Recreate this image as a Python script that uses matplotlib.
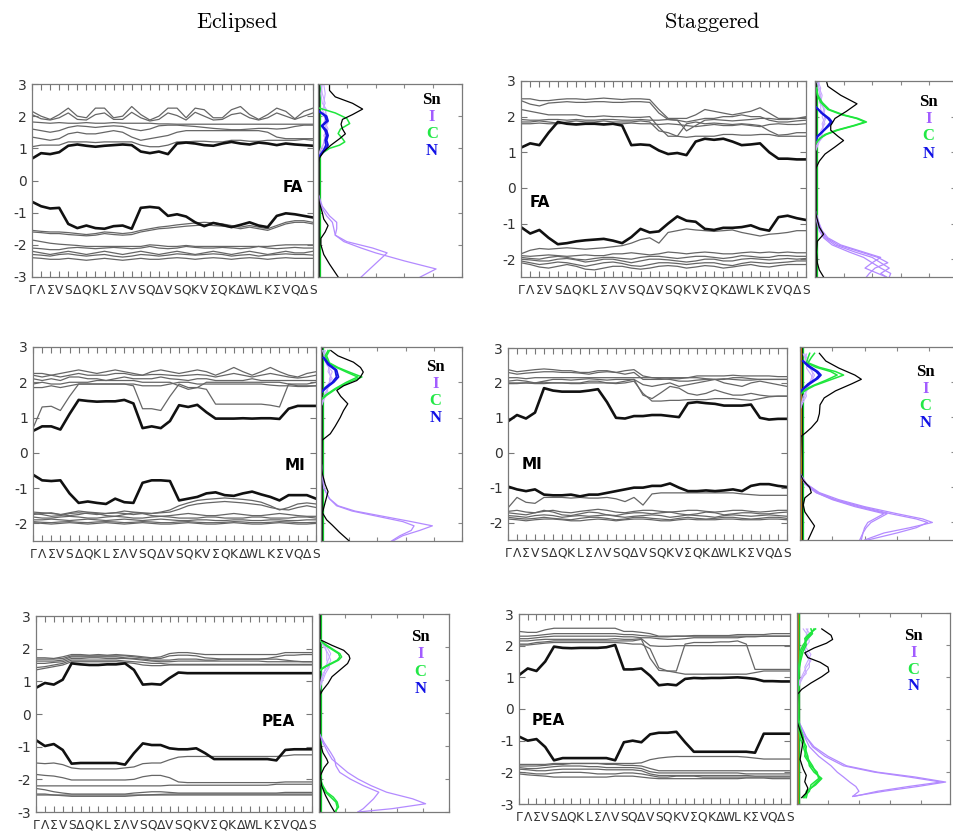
import numpy as np
import matplotlib
matplotlib.use('Agg')
from matplotlib import pyplot as plt

plt.rcParams['axes.unicode_minus'] = False
plt.rcParams['mathtext.fontset'] = 'cm'

kpath = ['Γ', 'Λ', 'Σ', 'V', 'S', 'Δ', 'Q', 'K', 'L', 'Σ', 'Λ', 'V', 'S', 'Q', 'Δ', 'V',
         'S', 'Q', 'K', 'V', 'Σ', 'Q', 'K', 'Δ', 'W', 'L', 'K', 'Σ', 'V', 'Q', 'Δ', 'S']
species = ['Sn', 'I', 'C', 'N']

# ---------------- Eclipsed FA ----------------
ecl_fa_cb = [0.68, 0.85, 0.82, 0.88, 1.08, 1.12, 1.08, 1.05, 1.08, 1.1, 1.12, 1.1, 0.9, 0.85, 0.9, 0.82,
             1.15, 1.18, 1.15, 1.1, 1.08, 1.15, 1.2, 1.15, 1.12, 1.18, 1.15, 1.1, 1.15, 1.12, 1.1, 1.08]
ecl_fa_vb = [-0.66, -0.8, -0.87, -0.85, -1.35, -1.48, -1.4, -1.48, -1.5, -1.42, -1.4, -1.5, -0.85, -0.82, -0.85, -1.1,
             -1.05, -1.12, -1.3, -1.42, -1.32, -1.38, -1.45, -1.38, -1.3, -1.4, -1.45, -1.1, -1.02, -1.05, -1.1, -1.15]
ecl_fa_gray = [
    [2.15, 2.0, 1.9, 2.05, 2.25, 2.0, 1.95, 2.25, 2.25, 1.95, 2.0, 2.3, 2.05, 1.88, 2.0, 2.25,
     2.25, 1.95, 2.25, 2.2, 1.95, 1.95, 2.2, 2.3, 2.05, 1.9, 2.05, 2.25, 2.15, 1.92, 2.15, 2.25],
    [2.05, 1.92, 1.88, 1.95, 2.1, 1.9, 1.88, 2.05, 2.1, 1.9, 1.9, 2.12, 1.95, 1.85, 1.9, 2.1,
     2.02, 1.88, 2.12, 2.0, 1.88, 1.9, 2.05, 2.1, 1.95, 1.88, 1.95, 2.1, 2.0, 1.9, 2.0, 2.1],
    [1.82, 1.8, 1.78, 1.8, 1.78, 1.78, 1.8, 1.78, 1.78, 1.8, 1.78, 1.78, 1.78, 1.78, 1.76, 1.76,
     1.75, 1.75, 1.75, 1.75, 1.75, 1.75, 1.75, 1.75, 1.75, 1.75, 1.75, 1.75, 1.75, 1.75, 1.75, 1.75],
    [1.6, 1.55, 1.5, 1.55, 1.65, 1.7, 1.68, 1.65, 1.68, 1.7, 1.68, 1.6, 1.55, 1.6, 1.7, 1.72,
     1.72, 1.7, 1.68, 1.65, 1.62, 1.6, 1.58, 1.58, 1.6, 1.62, 1.62, 1.6, 1.62, 1.68, 1.72, 1.72],
    [1.35, 1.3, 1.25, 1.3, 1.45, 1.5, 1.45, 1.45, 1.5, 1.55, 1.5, 1.35, 1.25, 1.3, 1.35, 1.4,
     1.5, 1.55, 1.55, 1.55, 1.55, 1.55, 1.55, 1.55, 1.55, 1.55, 1.5, 1.35, 1.3, 1.3, 1.3, 1.3],
    [1.05, 1.1, 1.1, 1.1, 1.2, 1.2, 1.2, 1.18, 1.2, 1.2, 1.2, 1.2, 1.1, 1.05, 1.05, 1.1,
     1.2, 1.2, 1.22, 1.22, 1.2, 1.2, 1.25, 1.25, 1.22, 1.22, 1.25, 1.25, 1.25, 1.25, 1.28, 1.25],
    [-1.55, -1.58, -1.6, -1.6, -1.62, -1.65, -1.68, -1.65, -1.6, -1.62, -1.65, -1.62, -1.55, -1.5, -1.45, -1.42,
     -1.38, -1.35, -1.32, -1.3, -1.32, -1.35, -1.4, -1.45, -1.4, -1.45, -1.5, -1.4, -1.3, -1.25, -1.25, -1.3],
    [-1.6, -1.62, -1.65, -1.65, -1.68, -1.7, -1.72, -1.7, -1.65, -1.68, -1.7, -1.68, -1.6, -1.55, -1.5, -1.48,
     -1.45, -1.42, -1.4, -1.38, -1.4, -1.42, -1.45, -1.5, -1.45, -1.5, -1.55, -1.45, -1.35, -1.3, -1.3, -1.35],
    [-1.85, -1.9, -1.95, -1.98, -2.0, -2.02, -2.05, -2.05, -2.05, -2.05, -2.05, -2.05, -2.05, -2.0, -2.02, -2.05,
     -2.05, -2.02, -2.05, -2.05, -2.05, -2.05, -2.05, -2.05, -2.05, -2.05, -2.05, -2.02, -2.0, -2.0, -2.0, -2.0],
    [-2.1, -2.12, -2.15, -2.15, -2.1, -2.08, -2.1, -2.12, -2.1, -2.08, -2.1, -2.12, -2.1, -2.05, -2.1, -2.12,
     -2.1, -2.05, -2.08, -2.1, -2.1, -2.08, -2.1, -2.12, -2.1, -2.05, -2.1, -2.12, -2.1, -2.08, -2.1, -2.1],
    [-2.2, -2.25, -2.3, -2.25, -2.2, -2.25, -2.3, -2.25, -2.2, -2.25, -2.3, -2.25, -2.2, -2.25, -2.3, -2.25,
     -2.2, -2.25, -2.3, -2.25, -2.2, -2.25, -2.3, -2.25, -2.2, -2.25, -2.3, -2.25, -2.2, -2.25, -2.25, -2.2],
    [-2.3, -2.32, -2.35, -2.3, -2.28, -2.32, -2.35, -2.32, -2.3, -2.35, -2.38, -2.35, -2.3, -2.32, -2.35, -2.32,
     -2.28, -2.3, -2.32, -2.3, -2.28, -2.3, -2.35, -2.32, -2.3, -2.35, -2.32, -2.3, -2.28, -2.3, -2.3, -2.32],
    [-2.4, -2.42, -2.45, -2.45, -2.42, -2.45, -2.48, -2.45, -2.42, -2.45, -2.48, -2.45, -2.42, -2.45, -2.45, -2.42,
     -2.4, -2.42, -2.45, -2.42, -2.4, -2.42, -2.45, -2.42, -2.4, -2.42, -2.45, -2.42, -2.4, -2.42, -2.42, -2.42],
]
ecl_fa_sn_e = [3.0, 2.8, 2.6, 2.4, 2.22, 2.05, 1.9, 1.75, 1.6, 1.45, 1.3, 1.1, 0.9, 0.7, 0.5,
               -0.4, -0.7, -1.0, -1.2, -1.4, -1.6, -1.8, -2.0, -2.3, -2.6, -2.8, -3.0]
ecl_fa_sn_x = [0.4, 0.4, 0.6, 1.2, 1.55, 1.2, 0.85, 0.8, 0.85, 0.95, 0.75, 0.45, 0.2, 0.05, 0.0,
               0.0, 0.05, 0.15, 0.2, 0.35, 0.25, 0.1, 0.1, 0.2, 0.4, 0.55, 0.7]
ecl_fa_i_e = [-0.4, -0.8, -1.1, -1.3, -1.5, -1.7, -1.9, -2.1, -2.25, -2.5, -2.75, -3.0]
ecl_fa_i_x = [[0.0, 0.15, 0.4, 0.65, 0.65, 0.6, 1.0, 1.9, 2.4, 2.1, 1.8, 1.5],
              [0.0, 0.1, 0.3, 0.5, 0.55, 0.6, 0.9, 1.5, 2.0, 3.0, 4.1, 3.55]]
ecl_fa_ic_e = [3.0, 2.7, 2.4, 2.2, 2.0, 1.8, 1.6, 1.4, 1.2, 1.0, 0.8, 0.6]
ecl_fa_ic_x = [[0.2, 0.25, 0.2, 0.25, 0.3, 0.2, 0.3, 0.25, 0.2, 0.15, 0.05, 0.0],
               [0.15, 0.1, 0.15, 0.3, 0.2, 0.35, 0.2, 0.3, 0.25, 0.1, 0.02, 0.0],
               [0.1, 0.15, 0.25, 0.15, 0.25, 0.25, 0.35, 0.2, 0.3, 0.2, 0.05, 0.0]]
ecl_fa_c_e = [2.25, 2.1, 1.93, 1.77, 1.6, 1.46, 1.3, 1.2, 1.1, 1.0, 0.85, 0.72]
ecl_fa_c_x = [[0.05, 0.6, 1.0, 1.1, 0.78, 0.7, 0.85, 0.93, 0.75, 0.4, 0.15, 0.02]]
ecl_fa_n_e = [2.15, 2.0, 1.85, 1.7, 1.55, 1.4, 1.25, 1.1, 0.95, 0.8, 0.7]
ecl_fa_n_x = [[0.05, 0.3, 0.35, 0.15, 0.3, 0.35, 0.3, 0.35, 0.25, 0.1, 0.0],
              [0.03, 0.25, 0.3, 0.12, 0.25, 0.3, 0.25, 0.28, 0.2, 0.08, 0.0]]

# ---------------- Staggered FA ----------------
stg_fa_cb = [1.13, 1.25, 1.2, 1.55, 1.85, 1.8, 1.78, 1.8, 1.8, 1.78, 1.8, 1.75, 1.2, 1.22, 1.2, 1.05,
             0.95, 0.98, 0.92, 1.3, 1.38, 1.35, 1.38, 1.3, 1.2, 1.22, 1.25, 1.0, 0.82, 0.82, 0.8, 0.8]
stg_fa_vb = [-1.1, -1.28, -1.18, -1.4, -1.58, -1.55, -1.5, -1.47, -1.45, -1.43, -1.48, -1.55, -1.38, -1.15, -1.25, -1.22,
             -1.0, -0.8, -0.92, -0.95, -1.15, -1.18, -1.12, -1.12, -1.1, -1.05, -1.15, -1.2, -0.82, -0.78, -0.85, -0.9]
stg_fa_gray = [
    [2.5, 2.5, 2.45, 2.45, 2.48, 2.5, 2.5, 2.48, 2.5, 2.52, 2.5, 2.48, 2.5, 2.5, 2.48, 2.2,
     1.95, 1.95, 1.95, 2.05, 2.2, 2.15, 2.1, 2.05, 2.1, 2.15, 2.25, 2.1, 1.95, 1.95, 1.95, 1.95],
    [2.45, 2.35, 2.3, 2.38, 2.4, 2.42, 2.4, 2.4, 2.42, 2.42, 2.4, 2.4, 2.42, 2.42, 2.4, 2.1,
     1.92, 1.9, 1.85, 1.9, 1.95, 1.95, 2.0, 2.0, 2.05, 2.0, 2.0, 1.9, 1.85, 1.85, 1.88, 1.9],
    [2.2, 2.15, 2.1, 2.05, 2.05, 2.05, 2.05, 2.0, 2.0, 2.02, 2.0, 2.0, 1.98, 1.98, 2.0, 1.7,
     1.45, 1.45, 1.42, 1.45, 1.45, 1.45, 1.5, 1.5, 1.48, 1.48, 1.5, 1.5, 1.45, 1.45, 1.45, 1.45],
    [1.92, 1.9, 1.9, 1.92, 1.92, 1.9, 1.92, 1.9, 1.9, 1.92, 1.92, 1.9, 1.9, 1.92, 1.9, 1.9,
     1.92, 1.9, 1.6, 1.75, 1.9, 1.92, 1.9, 1.88, 1.9, 1.92, 1.95, 1.95, 1.92, 1.92, 1.95, 2.0],
    [1.85, 1.85, 1.88, 1.85, 1.82, 1.85, 1.88, 1.85, 1.85, 1.88, 1.85, 1.85, 1.85, 1.88, 1.85, 1.6,
     1.55, 1.45, 1.8, 1.85, 1.8, 1.82, 1.8, 1.78, 1.8, 1.78, 1.75, 1.6, 1.48, 1.5, 1.55, 1.55],
    [1.8, 1.8, 1.82, 1.8, 1.8, 1.82, 1.8, 1.8, 1.82, 1.8, 1.8, 1.8, 1.82, 1.8, 1.8, 1.78,
     1.8, 1.78, 1.75, 1.72, 1.75, 1.78, 1.75, 1.75, 1.78, 1.75, 1.72, 1.78, 1.8, 1.78, 1.78, 1.8],
    [-1.85, -1.75, -1.7, -1.72, -1.7, -1.68, -1.7, -1.72, -1.7, -1.68, -1.65, -1.62, -1.55, -1.45, -1.4, -1.55,
     -1.25, -1.2, -1.15, -1.18, -1.2, -1.22, -1.2, -1.18, -1.25, -1.3, -1.35, -1.3, -1.28, -1.25, -1.2, -1.2],
    [-1.9, -1.92, -1.9, -1.88, -1.9, -1.92, -1.9, -1.88, -1.9, -1.9, -1.85, -1.85, -1.82, -1.85, -1.88, -1.85,
     -1.8, -1.82, -1.85, -1.82, -1.8, -1.82, -1.85, -1.85, -1.82, -1.8, -1.82, -1.8, -1.82, -1.8, -1.82, -1.82],
    [-1.95, -1.98, -2.0, -1.95, -1.92, -1.95, -2.0, -2.02, -1.98, -1.95, -1.95, -1.98, -2.0, -1.95, -1.92, -1.92,
     -1.95, -1.98, -1.95, -1.92, -1.92, -1.95, -1.98, -1.95, -1.9, -1.92, -1.95, -1.95, -1.9, -1.9, -1.92, -1.92],
    [-2.0, -2.02, -2.05, -2.05, -2.0, -1.98, -2.02, -2.08, -2.05, -2.0, -2.0, -2.05, -2.1, -2.05, -2.0, -2.0,
     -2.02, -2.05, -2.08, -2.05, -2.0, -2.0, -2.05, -2.05, -2.0, -1.98, -2.0, -2.02, -2.0, -1.98, -2.0, -1.98],
    [-2.05, -2.1, -2.15, -2.12, -2.08, -2.1, -2.15, -2.2, -2.15, -2.1, -2.08, -2.12, -2.18, -2.2, -2.15, -2.1,
     -2.1, -2.12, -2.15, -2.12, -2.1, -2.1, -2.15, -2.18, -2.12, -2.08, -2.1, -2.12, -2.1, -2.08, -2.05, -2.05],
    [-2.1, -2.15, -2.22, -2.25, -2.2, -2.15, -2.2, -2.28, -2.3, -2.25, -2.2, -2.2, -2.25, -2.28, -2.25, -2.2,
     -2.18, -2.2, -2.25, -2.22, -2.18, -2.2, -2.25, -2.22, -2.18, -2.15, -2.2, -2.22, -2.18, -2.15, -2.15, -2.15],
]
stg_fa_sn_e = [3.0, 2.85, 2.6, 2.36, 2.15, 1.95, 1.75, 1.62, 1.45, 1.33, 1.15, 0.95, 0.75, 0.5,
               -0.5, -0.8, -1.1, -1.3, -1.5, -1.8, -2.1, -2.3, -2.5]
stg_fa_sn_x = [0.4, 0.45, 0.9, 1.47, 1.1, 0.7, 0.55, 0.55, 0.8, 1.0, 0.7, 0.35, 0.15, 0.0,
               0.0, 0.05, 0.15, 0.3, 0.08, 0.05, 0.08, 0.15, 0.3]
stg_fa_i_e = [-0.6, -0.9, -1.2, -1.4, -1.6, -1.8, -1.95, -2.1, -2.25, -2.4, -2.5]
stg_fa_i_x = [[0.0, 0.1, 0.2, 0.4, 0.8, 1.6, 2.2, 2.55, 2.1, 1.9, 1.8],
              [0.0, 0.1, 0.2, 0.35, 0.7, 1.4, 2.0, 2.3, 2.6, 2.3, 2.5],
              [0.0, 0.05, 0.15, 0.3, 0.6, 1.2, 1.7, 2.0, 2.3, 2.65, 2.6],
              [0.0, 0.1, 0.25, 0.45, 0.9, 1.7, 2.3, 2.0, 1.75, 2.2, 2.5]]
stg_fa_ic_e = [3.0, 2.8, 2.6, 2.4, 2.2, 2.0, 1.8, 1.6, 1.4, 1.2, 1.0]
stg_fa_ic_x = [[0.1, 0.2, 0.15, 0.25, 0.3, 0.35, 0.25, 0.3, 0.2, 0.1, 0.0],
               [0.15, 0.1, 0.2, 0.15, 0.35, 0.25, 0.35, 0.2, 0.25, 0.05, 0.0],
               [0.05, 0.15, 0.25, 0.2, 0.2, 0.4, 0.3, 0.25, 0.15, 0.08, 0.0]]
stg_fa_c_e = [2.8, 2.6, 2.4, 2.2, 2.05, 1.95, 1.85, 1.75, 1.62, 1.5, 1.4, 1.3, 1.2]
stg_fa_c_x = [[0.05, 0.1, 0.25, 0.5, 1.0, 1.5, 1.8, 1.4, 0.8, 0.4, 0.2, 0.08, 0.0],
              [0.05, 0.08, 0.2, 0.45, 0.95, 1.45, 1.75, 1.35, 0.75, 0.35, 0.18, 0.06, 0.0]]
stg_fa_n_e = [2.3, 2.1, 1.95, 1.85, 1.75, 1.6, 1.45, 1.3]
stg_fa_n_x = [[0.0, 0.25, 0.5, 0.6, 0.5, 0.3, 0.1, 0.0],
              [0.0, 0.22, 0.45, 0.55, 0.45, 0.28, 0.08, 0.0]]

# ---------------- Eclipsed MI ----------------
ecl_mi_cb = [0.62, 0.75, 0.75, 0.66, 1.1, 1.5, 1.47, 1.45, 1.46, 1.46, 1.5, 1.4, 0.7, 0.75, 0.7, 0.9,
             1.35, 1.3, 1.36, 1.15, 0.97, 0.97, 0.97, 0.98, 0.97, 0.98, 0.98, 0.96, 1.25, 1.33, 1.33, 1.33]
ecl_mi_vb = [-0.62, -0.78, -0.8, -0.78, -1.15, -1.42, -1.38, -1.42, -1.45, -1.3, -1.4, -1.42, -0.85, -0.78, -0.78, -0.8,
             -1.35, -1.3, -1.25, -1.15, -1.12, -1.2, -1.22, -1.15, -1.1, -1.18, -1.25, -1.35, -1.2, -1.2, -1.2, -1.3]
ecl_mi_gray = [
    [0.7, 1.3, 1.32, 1.2, 1.6, 1.95, 1.95, 1.95, 1.95, 1.95, 1.95, 1.9, 1.25, 1.25, 1.2, 1.6,
     1.95, 1.85, 1.85, 1.8, 1.38, 1.38, 1.38, 1.38, 1.38, 1.38, 1.35, 1.3, 1.95, 1.9, 1.9, 1.9],
    [2.25, 2.25, 2.2, 2.25, 2.3, 2.35, 2.3, 2.25, 2.3, 2.35, 2.3, 2.25, 2.2, 2.3, 2.35, 2.3,
     2.25, 2.3, 2.35, 2.3, 2.2, 2.3, 2.42, 2.3, 2.2, 2.3, 2.42, 2.3, 2.2, 2.15, 2.25, 2.3],
    [2.2, 2.15, 2.2, 2.15, 2.2, 2.25, 2.2, 2.2, 2.2, 2.25, 2.25, 2.2, 2.2, 2.22, 2.22, 2.2,
     2.18, 2.2, 2.22, 2.2, 2.15, 2.2, 2.25, 2.2, 2.15, 2.2, 2.25, 2.2, 2.15, 2.12, 2.15, 2.2],
    [2.1, 2.05, 2.1, 2.05, 2.15, 2.15, 2.1, 2.1, 2.05, 2.1, 2.15, 2.1, 2.1, 2.1, 2.15, 2.1,
     2.08, 2.05, 2.1, 2.1, 2.05, 2.05, 2.05, 2.05, 2.1, 2.05, 2.05, 2.05, 2.05, 2.05, 2.05, 2.05],
    [1.95, 2.0, 1.95, 1.95, 2.0, 2.0, 2.0, 2.05, 2.05, 2.05, 2.05, 2.05, 2.0, 2.0, 2.0, 2.0,
     1.9, 1.8, 1.85, 2.0, 2.0, 2.0, 2.0, 2.0, 2.0, 2.0, 2.0, 2.0, 1.95, 1.95, 1.95, 2.0],
    [1.85, 1.85, 1.9, 1.85, 1.9, 1.95, 1.95, 1.95, 1.95, 1.95, 1.95, 1.95, 1.9, 1.9, 1.9, 1.95,
     2.0, 2.0, 1.95, 1.95, 1.95, 1.95, 1.95, 1.95, 1.95, 1.95, 1.92, 1.9, 1.9, 1.88, 1.88, 1.9],
    [-1.68, -1.7, -1.72, -1.75, -1.7, -1.65, -1.68, -1.7, -1.72, -1.7, -1.65, -1.68, -1.7, -1.72, -1.68, -1.62,
     -1.5, -1.42, -1.35, -1.32, -1.3, -1.28, -1.3, -1.32, -1.35, -1.4, -1.5, -1.62, -1.55, -1.45, -1.42, -1.45],
    [-1.72, -1.75, -1.8, -1.78, -1.72, -1.7, -1.72, -1.75, -1.72, -1.7, -1.72, -1.75, -1.72, -1.72, -1.7, -1.68,
     -1.6, -1.5, -1.45, -1.42, -1.4, -1.38, -1.4, -1.42, -1.45, -1.48, -1.55, -1.6, -1.62, -1.55, -1.5, -1.55],
    [-1.75, -1.72, -1.7, -1.75, -1.78, -1.75, -1.7, -1.72, -1.78, -1.8, -1.75, -1.7, -1.72, -1.78, -1.8, -1.78,
     -1.75, -1.72, -1.75, -1.78, -1.78, -1.75, -1.72, -1.75, -1.78, -1.78, -1.75, -1.72, -1.75, -1.78, -1.8, -1.8],
    [-1.82, -1.85, -1.85, -1.82, -1.8, -1.82, -1.85, -1.85, -1.82, -1.8, -1.82, -1.85, -1.85, -1.82, -1.8, -1.82,
     -1.85, -1.85, -1.85, -1.82, -1.82, -1.85, -1.85, -1.85, -1.82, -1.82, -1.85, -1.85, -1.85, -1.82, -1.82, -1.85],
    [-1.9, -1.9, -1.88, -1.9, -1.92, -1.9, -1.88, -1.9, -1.92, -1.9, -1.88, -1.9, -1.92, -1.9, -1.88, -1.9,
     -1.92, -1.92, -1.9, -1.9, -1.92, -1.92, -1.9, -1.9, -1.92, -1.92, -1.9, -1.9, -1.92, -1.92, -1.9, -1.9],
    [-1.95, -1.97, -1.98, -1.96, -1.95, -1.97, -1.98, -1.96, -1.95, -1.96, -1.98, -1.97, -1.95, -1.96, -1.98, -1.98,
     -1.96, -1.95, -1.97, -1.98, -1.98, -1.97, -1.95, -1.96, -1.98, -1.98, -1.97, -1.95, -1.96, -1.98, -1.98, -1.97],
    [-1.98, -2.0, -2.02, -2.0, -1.98, -2.0, -2.02, -2.0, -1.98, -2.0, -2.02, -2.0, -1.98, -2.0, -2.02, -2.02,
     -2.0, -1.98, -2.0, -2.02, -2.02, -2.0, -1.98, -2.0, -2.02, -2.02, -2.0, -1.98, -2.0, -2.02, -2.02, -2.0],
]
ecl_mi_sn_e = [2.9, 2.75, 2.57, 2.42, 2.29, 2.15, 2.05, 1.9, 1.77, 1.6, 1.39, 1.2, 1.0, 0.75, 0.54, 0.35,
               -0.2, -0.6, -0.9, -1.1, -1.4, -1.7, -1.9, -2.05, -2.25, -2.5]
ecl_mi_sn_x = [0.35, 0.6, 1.15, 1.4, 1.5, 1.4, 1.27, 0.8, 0.56, 0.7, 0.95, 0.8, 0.68, 0.5, 0.33, 0.03,
               0.0, 0.05, 0.15, 0.25, 0.15, 0.05, 0.2, 0.4, 0.65, 1.0]
ecl_mi_i_e = [-0.2, -0.6, -1.0, -1.3, -1.5, -1.65, -1.8, -1.95, -2.07, -2.2, -2.35, -2.5]
ecl_mi_i_x = [[0.0, 0.05, 0.1, 0.3, 0.6, 1.2, 2.2, 3.2, 3.95, 3.5, 2.9, 2.55],
              [0.0, 0.05, 0.1, 0.3, 0.55, 1.1, 2.0, 2.9, 3.3, 3.2, 2.8, 2.5]]
ecl_mi_ic_e = [2.9, 2.7, 2.5, 2.3, 2.1, 1.9, 1.7, 1.5, 1.3]
ecl_mi_ic_x = [[0.1, 0.2, 0.25, 0.3, 0.35, 0.25, 0.2, 0.1, 0.0],
               [0.15, 0.1, 0.2, 0.4, 0.3, 0.3, 0.15, 0.05, 0.0],
               [0.05, 0.15, 0.3, 0.25, 0.4, 0.2, 0.25, 0.08, 0.0]]
ecl_mi_c_e = [2.9, 2.75, 2.55, 2.42, 2.29, 2.15, 2.0, 1.82, 1.63, 1.5]
ecl_mi_c_x = [[0.3, 0.2, 0.3, 0.6, 1.0, 1.45, 1.0, 0.55, 0.2, 0.0],
              [0.25, 0.15, 0.25, 0.55, 0.9, 1.3, 0.9, 0.5, 0.15, 0.0]]
ecl_mi_n_e = [2.7, 2.5, 2.35, 2.15, 2.0, 1.85, 1.7]
ecl_mi_n_x = [[0.1, 0.3, 0.55, 0.62, 0.45, 0.2, 0.0],
              [0.08, 0.25, 0.5, 0.55, 0.4, 0.15, 0.0]]

# ---------------- Staggered MI ----------------
stg_mi_cb = [0.9, 1.08, 0.98, 1.15, 1.85, 1.78, 1.75, 1.75, 1.75, 1.78, 1.82, 1.45, 1.0, 0.98, 1.05, 1.05,
             1.08, 1.08, 1.05, 1.02, 1.42, 1.45, 1.42, 1.4, 1.35, 1.35, 1.35, 1.38, 1.0, 0.95, 0.97, 0.97]
stg_mi_vb = [-0.97, -1.05, -1.1, -1.05, -1.2, -1.22, -1.22, -1.2, -1.25, -1.2, -1.2, -1.15, -1.1, -1.05, -1.0, -1.0,
             -0.95, -0.95, -0.88, -1.0, -1.1, -1.1, -1.08, -1.1, -1.08, -1.05, -1.1, -0.95, -0.9, -0.9, -0.95, -0.98]
stg_mi_gray = [
    [2.38, 2.32, 2.35, 2.38, 2.4, 2.38, 2.35, 2.35, 2.3, 2.3, 2.35, 2.35, 2.3, 2.35, 2.38, 2.2,
     2.15, 2.15, 2.15, 2.15, 2.15, 2.2, 2.2, 2.2, 2.2, 2.22, 2.2, 2.2, 2.2, 2.2, 2.18, 2.18],
    [2.3, 2.25, 2.28, 2.3, 2.32, 2.32, 2.3, 2.3, 2.28, 2.25, 2.3, 2.32, 2.3, 2.25, 2.3, 2.1,
     2.1, 2.1, 2.12, 2.12, 2.15, 2.15, 2.12, 2.1, 2.1, 2.15, 2.15, 2.12, 2.1, 2.1, 2.1, 2.1],
    [2.15, 2.15, 2.12, 2.15, 2.15, 2.15, 2.15, 2.15, 2.15, 2.15, 2.15, 2.15, 2.15, 2.15, 2.15, 2.15,
     2.15, 2.12, 2.1, 2.05, 2.05, 2.08, 2.1, 2.1, 2.12, 2.1, 2.08, 2.08, 2.1, 2.1, 2.1, 2.1],
    [2.05, 2.08, 2.05, 2.0, 2.05, 2.1, 2.1, 2.08, 2.1, 2.12, 2.1, 2.08, 2.1, 2.1, 2.1, 1.95,
     1.9, 1.95, 2.0, 1.9, 1.95, 2.0, 2.05, 2.1, 2.0, 1.95, 1.9, 2.0, 2.05, 2.0, 1.95, 1.9],
    [2.0, 2.0, 2.0, 2.0, 2.02, 2.0, 2.0, 2.0, 2.0, 2.05, 2.05, 2.0, 2.0, 2.05, 2.1, 1.65,
     1.55, 1.72, 1.9, 1.85, 1.7, 1.65, 1.7, 1.8, 1.72, 1.65, 1.65, 1.7, 1.65, 1.62, 1.62, 1.62],
    [1.98, 1.98, 2.0, 1.98, 1.98, 2.0, 2.0, 1.98, 1.98, 2.0, 2.0, 2.0, 1.98, 2.0, 2.05, 1.7,
     1.48, 1.48, 1.5, 1.5, 1.52, 1.52, 1.52, 1.55, 1.55, 1.55, 1.52, 1.5, 1.55, 1.6, 1.62, 1.62],
    [-1.58, -1.28, -1.42, -1.45, -1.28, -1.28, -1.28, -1.3, -1.28, -1.3, -1.3, -1.28, -1.32, -1.4, -1.28, -1.5,
     -1.18, -1.15, -1.15, -1.15, -1.15, -1.15, -1.15, -1.15, -1.15, -1.15, -1.18, -1.2, -1.22, -1.22, -1.22, -1.22],
    [-1.68, -1.65, -1.7, -1.72, -1.68, -1.65, -1.7, -1.72, -1.68, -1.65, -1.62, -1.65, -1.7, -1.72, -1.68, -1.65,
     -1.65, -1.68, -1.7, -1.68, -1.65, -1.65, -1.68, -1.7, -1.68, -1.65, -1.65, -1.68, -1.7, -1.68, -1.65, -1.65],
    [-1.72, -1.75, -1.78, -1.72, -1.65, -1.7, -1.78, -1.8, -1.75, -1.7, -1.72, -1.78, -1.8, -1.75, -1.72, -1.72,
     -1.75, -1.72, -1.7, -1.75, -1.78, -1.75, -1.7, -1.72, -1.78, -1.75, -1.72, -1.72, -1.75, -1.75, -1.72, -1.7],
    [-1.8, -1.82, -1.85, -1.8, -1.78, -1.8, -1.85, -1.82, -1.8, -1.82, -1.8, -1.78, -1.82, -1.85, -1.82, -1.8,
     -1.78, -1.8, -1.85, -1.82, -1.78, -1.8, -1.82, -1.85, -1.8, -1.78, -1.8, -1.82, -1.8, -1.78, -1.8, -1.82],
    [-1.85, -1.88, -1.9, -1.88, -1.85, -1.88, -1.9, -1.92, -1.88, -1.85, -1.85, -1.88, -1.92, -1.9, -1.85, -1.85,
     -1.88, -1.9, -1.92, -1.88, -1.85, -1.88, -1.9, -1.88, -1.85, -1.85, -1.88, -1.9, -1.88, -1.85, -1.85, -1.88],
    [-1.9, -1.92, -1.95, -1.92, -1.9, -1.9, -1.92, -1.95, -1.95, -1.92, -1.9, -1.92, -1.95, -1.92, -1.9, -1.9,
     -1.92, -1.95, -1.95, -1.92, -1.9, -1.92, -1.92, -1.92, -1.9, -1.9, -1.92, -1.92, -1.92, -1.9, -1.9, -1.92],
]
stg_mi_sn_e = [2.82, 2.6, 2.4, 2.2, 2.08, 1.95, 1.75, 1.55, 1.35, 1.1, 0.9, 0.7, 0.56, 0.45,
               -0.6, -0.8, -1.0, -1.15, -1.3, -1.5, -1.7, -1.9, -2.1, -2.3, -2.5]
stg_mi_sn_x = [0.6, 0.8, 1.2, 1.7, 1.9, 1.6, 1.1, 0.75, 0.62, 0.6, 0.54, 0.35, 0.18, 0.03,
               0.0, 0.1, 0.3, 0.35, 0.15, 0.1, 0.15, 0.3, 0.45, 0.35, 0.25]
stg_mi_i_e = [-0.6, -0.9, -1.15, -1.35, -1.55, -1.75, -1.9, -2.0, -2.15, -2.3, -2.5]
stg_mi_i_x = [[0.0, 0.2, 0.6, 1.2, 2.0, 3.0, 3.8, 4.1, 3.4, 2.6, 2.0],
              [0.0, 0.2, 0.55, 1.1, 1.9, 2.8, 3.6, 3.95, 3.6, 3.0, 2.1],
              [0.0, 0.15, 0.5, 1.0, 1.7, 2.6, 2.3, 2.1, 2.0, 1.95, 1.9],
              [0.0, 0.15, 0.5, 1.05, 1.8, 2.7, 2.4, 2.2, 2.05, 1.95, 1.85]]
stg_mi_ic_e = [2.8, 2.6, 2.4, 2.2, 2.0, 1.8, 1.6, 1.4, 1.2]
stg_mi_ic_x = [[0.2, 0.15, 0.3, 0.45, 0.35, 0.2, 0.15, 0.05, 0.0],
               [0.1, 0.2, 0.35, 0.4, 0.3, 0.25, 0.1, 0.05, 0.0],
               [0.15, 0.25, 0.2, 0.35, 0.4, 0.15, 0.2, 0.08, 0.0]]
stg_mi_c_e = [2.82, 2.7, 2.55, 2.42, 2.3, 2.2, 2.05, 1.9, 1.78, 1.65]
stg_mi_c_x = [[0.45, 0.35, 0.25, 0.6, 1.1, 1.35, 0.9, 0.45, 0.2, 0.0],
              [0.3, 0.25, 0.2, 0.5, 0.95, 1.15, 0.8, 0.4, 0.15, 0.0]]
stg_mi_n_e = [2.6, 2.45, 2.3, 2.2, 2.1, 1.95, 1.8, 1.7]
stg_mi_n_x = [[0.1, 0.3, 0.55, 0.65, 0.55, 0.3, 0.1, 0.0],
              [0.08, 0.25, 0.5, 0.6, 0.5, 0.25, 0.08, 0.0]]

# ---------------- Eclipsed PEA ----------------
ecl_pea_cb = [0.8, 0.95, 0.9, 1.05, 1.55, 1.52, 1.5, 1.5, 1.52, 1.52, 1.55, 1.35, 0.9, 0.92, 0.9, 1.1,
              1.27, 1.25, 1.25, 1.25, 1.25, 1.25, 1.25, 1.25, 1.25, 1.25, 1.25, 1.25, 1.25, 1.25, 1.25, 1.25]
ecl_pea_vb = [-0.8, -0.98, -0.92, -1.1, -1.52, -1.5, -1.5, -1.5, -1.5, -1.5, -1.55, -1.2, -0.9, -0.95, -0.95, -1.05,
              -1.08, -1.08, -1.05, -1.2, -1.38, -1.38, -1.38, -1.38, -1.38, -1.38, -1.38, -1.42, -1.1, -1.08, -1.08, -1.08]
ecl_pea_gray = [
    [1.72, 1.72, 1.7, 1.75, 1.82, 1.82, 1.8, 1.82, 1.8, 1.82, 1.8, 1.78, 1.75, 1.72, 1.75, 1.85,
     1.88, 1.88, 1.85, 1.82, 1.82, 1.82, 1.82, 1.82, 1.82, 1.82, 1.82, 1.82, 1.88, 1.88, 1.88, 1.88],
    [1.68, 1.68, 1.68, 1.7, 1.78, 1.78, 1.78, 1.78, 1.78, 1.78, 1.78, 1.75, 1.72, 1.7, 1.7, 1.78,
     1.8, 1.8, 1.78, 1.72, 1.7, 1.68, 1.68, 1.68, 1.68, 1.68, 1.7, 1.75, 1.8, 1.8, 1.82, 1.82],
    [1.62, 1.62, 1.62, 1.65, 1.75, 1.75, 1.75, 1.75, 1.75, 1.75, 1.72, 1.7, 1.68, 1.65, 1.65, 1.65,
     1.68, 1.68, 1.68, 1.65, 1.65, 1.68, 1.68, 1.68, 1.68, 1.68, 1.68, 1.68, 1.65, 1.62, 1.6, 1.6],
    [1.55, 1.55, 1.58, 1.6, 1.7, 1.7, 1.72, 1.72, 1.7, 1.7, 1.7, 1.68, 1.65, 1.62, 1.6, 1.6,
     1.62, 1.62, 1.62, 1.62, 1.62, 1.62, 1.62, 1.62, 1.62, 1.62, 1.6, 1.6, 1.6, 1.6, 1.6, 1.6],
    [1.42, 1.45, 1.5, 1.55, 1.65, 1.65, 1.65, 1.65, 1.65, 1.65, 1.62, 1.6, 1.58, 1.55, 1.55, 1.52,
     1.52, 1.52, 1.52, 1.52, 1.52, 1.52, 1.52, 1.52, 1.52, 1.52, 1.52, 1.52, 1.52, 1.52, 1.52, 1.52],
    [1.35, 1.4, 1.45, 1.5, 1.6, 1.6, 1.6, 1.6, 1.6, 1.6, 1.58, 1.55, 1.5, 1.48, 1.48, 1.5,
     1.5, 1.5, 1.5, 1.5, 1.5, 1.5, 1.5, 1.5, 1.5, 1.5, 1.5, 1.5, 1.5, 1.5, 1.5, 1.5],
    [-1.5, -1.52, -1.5, -1.55, -1.65, -1.68, -1.68, -1.68, -1.68, -1.68, -1.65, -1.62, -1.52, -1.5, -1.5, -1.4,
     -1.32, -1.3, -1.3, -1.3, -1.3, -1.3, -1.3, -1.3, -1.3, -1.3, -1.3, -1.3, -1.28, -1.25, -1.25, -1.25],
    [-1.85, -1.88, -1.9, -1.95, -2.02, -2.02, -2.02, -2.02, -2.02, -2.02, -2.02, -2.0, -1.92, -1.88, -1.88, -1.95,
     -2.08, -2.1, -2.1, -2.1, -2.1, -2.1, -2.1, -2.1, -2.1, -2.1, -2.1, -2.1, -2.08, -2.08, -2.08, -2.08],
    [-2.2, -2.2, -2.2, -2.2, -2.2, -2.2, -2.2, -2.2, -2.2, -2.2, -2.2, -2.2, -2.2, -2.2, -2.2, -2.18,
     -2.18, -2.18, -2.18, -2.18, -2.18, -2.18, -2.18, -2.18, -2.18, -2.18, -2.18, -2.15, -2.15, -2.15, -2.15, -2.15],
    [-2.28, -2.32, -2.38, -2.42, -2.45, -2.45, -2.45, -2.45, -2.45, -2.45, -2.45, -2.42, -2.4, -2.38, -2.38, -2.4,
     -2.42, -2.42, -2.42, -2.42, -2.42, -2.42, -2.42, -2.42, -2.42, -2.42, -2.42, -2.42, -2.4, -2.4, -2.4, -2.4],
    [-2.45, -2.45, -2.48, -2.5, -2.52, -2.52, -2.52, -2.52, -2.52, -2.52, -2.52, -2.5, -2.48, -2.48, -2.48, -2.48,
     -2.48, -2.48, -2.48, -2.48, -2.48, -2.48, -2.48, -2.48, -2.48, -2.48, -2.48, -2.48, -2.48, -2.48, -2.48, -2.48],
    [-2.48, -2.48, -2.48, -2.48, -2.48, -2.48, -2.48, -2.48, -2.48, -2.48, -2.48, -2.48, -2.48, -2.47, -2.46, -2.45,
     -2.45, -2.45, -2.45, -2.45, -2.45, -2.45, -2.45, -2.45, -2.45, -2.45, -2.45, -2.45, -2.45, -2.45, -2.45, -2.45],
]
ecl_pea_sn_e = [2.2, 2.05, 1.9, 1.75, 1.65, 1.5, 1.3, 1.1, 0.9, 0.7, 0.53,
                -0.6, -0.9, -1.2, -1.4, -1.5, -1.65, -1.9, -2.2, -2.5, -2.8, -3.0]
ecl_pea_sn_x = [0.1, 0.5, 0.95, 1.15, 1.19, 1.1, 0.8, 0.5, 0.35, 0.15, 0.02,
                0.0, 0.05, 0.15, 0.3, 0.35, 0.2, 0.05, 0.1, 0.25, 0.45, 0.6]
ecl_pea_i_e = [-0.6, -0.9, -1.2, -1.4, -1.6, -1.8, -2.0, -2.2, -2.4, -2.6, -2.75, -2.9, -3.0]
ecl_pea_i_x = [[0.0, 0.2, 0.45, 0.6, 0.65, 0.8, 1.2, 1.7, 2.3, 2.1, 1.9, 1.7, 1.5],
               [0.0, 0.15, 0.35, 0.5, 0.8, 1.1, 1.5, 2.0, 2.6, 3.6, 4.1, 2.8, 1.5]]
ecl_pea_ic_e = [2.2, 2.0, 1.8, 1.6, 1.4, 1.2, 1.0, 0.8, 0.6]
ecl_pea_ic_x = [[0.1, 0.3, 0.45, 0.35, 0.25, 0.2, 0.1, 0.05, 0.0],
                [0.05, 0.2, 0.35, 0.45, 0.35, 0.15, 0.08, 0.03, 0.0],
                [0.1, 0.25, 0.3, 0.3, 0.4, 0.25, 0.15, 0.05, 0.0]]
ecl_pea_c_e = [2.2, 2.05, 1.9, 1.8, 1.7, 1.6, 1.5, 1.4, 1.3]
ecl_pea_c_x = [[0.05, 0.3, 0.6, 0.8, 0.87, 0.75, 0.5, 0.25, 0.05],
               [0.05, 0.25, 0.55, 0.75, 0.8, 0.7, 0.45, 0.2, 0.05]]
ecl_pea_cv_e = [-2.0, -2.2, -2.4, -2.55, -2.7, -2.85, -3.0]
ecl_pea_cv_x = [[0.05, 0.15, 0.3, 0.55, 0.7, 0.75, 0.6],
                [0.05, 0.1, 0.25, 0.45, 0.65, 0.7, 0.65]]

# ---------------- Staggered PEA ----------------
stg_pea_cb = [1.07, 1.28, 1.2, 1.5, 1.97, 1.93, 1.92, 1.93, 1.93, 1.93, 1.95, 2.02, 1.25, 1.25, 1.28, 1.05,
              0.75, 0.78, 0.75, 0.95, 0.98, 0.97, 0.98, 0.98, 0.99, 1.0, 0.98, 0.95, 0.88, 0.88, 0.87, 0.87]
stg_pea_vb = [-0.87, -1.0, -0.95, -1.2, -1.62, -1.55, -1.55, -1.55, -1.55, -1.55, -1.55, -1.62, -1.05, -1.0, -1.05, -0.8,
              -0.75, -0.75, -0.72, -1.05, -1.35, -1.35, -1.35, -1.35, -1.35, -1.35, -1.35, -1.38, -0.78, -0.78, -0.78, -0.78]
stg_pea_gray = [
    [2.45, 2.42, 2.42, 2.5, 2.55, 2.55, 2.55, 2.55, 2.55, 2.55, 2.55, 2.55, 2.45, 2.45, 2.42, 2.38,
     2.3, 2.3, 2.3, 2.3, 2.32, 2.32, 2.32, 2.32, 2.32, 2.35, 2.35, 2.35, 2.35, 2.38, 2.38, 2.38],
    [2.3, 2.3, 2.32, 2.35, 2.38, 2.38, 2.38, 2.38, 2.38, 2.38, 2.38, 2.38, 2.35, 2.35, 2.32, 2.3,
     2.28, 2.28, 2.3, 2.3, 2.3, 2.3, 2.3, 2.3, 2.3, 2.3, 2.3, 2.3, 2.3, 2.3, 2.3, 2.3],
    [2.22, 2.22, 2.25, 2.28, 2.3, 2.3, 2.3, 2.3, 2.3, 2.3, 2.3, 2.3, 2.28, 2.28, 2.25, 2.25,
     2.22, 2.2, 2.2, 2.22, 2.25, 2.25, 2.25, 2.25, 2.25, 2.25, 2.28, 2.28, 2.3, 2.3, 2.3, 2.3],
    [2.15, 2.15, 2.18, 2.2, 2.2, 2.2, 2.2, 2.2, 2.2, 2.2, 2.2, 2.22, 2.2, 2.2, 2.22, 2.0,
     1.98, 1.98, 2.0, 2.0, 2.0, 2.0, 2.0, 2.0, 2.0, 2.0, 2.0, 2.0, 2.0, 2.0, 2.0, 2.0],
    [2.05, 2.05, 2.1, 2.12, 2.15, 2.15, 2.15, 2.15, 2.15, 2.15, 2.15, 2.15, 2.15, 2.15, 2.2, 1.6,
     1.22, 1.2, 1.2, 2.05, 2.1, 2.1, 2.1, 2.12, 2.12, 2.15, 2.05, 1.25, 1.25, 1.25, 1.25, 1.25],
    [2.02, 2.02, 2.05, 2.08, 2.1, 2.1, 2.1, 2.1, 2.1, 2.1, 2.1, 2.1, 2.08, 2.05, 2.05, 1.9,
     1.3, 1.2, 1.15, 1.1, 1.1, 1.1, 1.1, 1.1, 1.1, 1.1, 1.1, 1.15, 1.2, 1.2, 1.2, 1.2],
    [-1.75, -1.75, -1.75, -1.75, -1.72, -1.72, -1.72, -1.72, -1.72, -1.72, -1.72, -1.72, -1.72, -1.72, -1.7, -1.6,
     -1.55, -1.52, -1.5, -1.5, -1.5, -1.5, -1.5, -1.5, -1.5, -1.5, -1.52, -1.55, -1.58, -1.58, -1.58, -1.58],
    [-1.8, -1.8, -1.8, -1.78, -1.75, -1.75, -1.72, -1.72, -1.72, -1.72, -1.75, -1.75, -1.78, -1.78, -1.8, -1.88,
     -1.95, -1.95, -1.95, -1.95, -1.95, -1.95, -1.95, -1.95, -1.95, -1.95, -1.95, -1.95, -1.95, -1.95, -1.95, -1.95],
    [-1.85, -1.88, -1.88, -1.85, -1.82, -1.8, -1.8, -1.8, -1.82, -1.82, -1.85, -1.85, -1.85, -1.85, -1.88, -1.98,
     -2.02, -2.02, -2.02, -2.02, -2.02, -2.02, -2.02, -2.02, -2.02, -2.02, -2.05, -2.05, -2.05, -2.05, -2.05, -2.05],
    [-1.9, -1.92, -1.95, -1.95, -1.92, -1.9, -1.9, -1.9, -1.9, -1.9, -1.92, -1.92, -1.92, -1.92, -1.95, -2.05,
     -2.1, -2.1, -2.1, -2.1, -2.1, -2.1, -2.1, -2.1, -2.1, -2.1, -2.1, -2.12, -2.12, -2.12, -2.12, -2.12],
    [-2.0, -2.02, -2.05, -2.05, -2.02, -2.0, -2.0, -2.0, -2.02, -2.05, -2.05, -2.05, -2.02, -2.02, -2.05, -2.1,
     -2.15, -2.15, -2.12, -2.12, -2.12, -2.15, -2.15, -2.15, -2.15, -2.15, -2.15, -2.15, -2.15, -2.15, -2.15, -2.15],
    [-2.05, -2.08, -2.1, -2.12, -2.15, -2.15, -2.15, -2.15, -2.15, -2.15, -2.15, -2.12, -2.12, -2.12, -2.15, -2.18,
     -2.2, -2.2, -2.2, -2.2, -2.2, -2.2, -2.2, -2.2, -2.2, -2.2, -2.18, -2.18, -2.18, -2.2, -2.2, -2.2],
]
stg_pea_sn_e = [2.5, 2.4, 2.3, 2.17, 2.05, 1.9, 1.75, 1.6, 1.45, 1.3, 1.16, 1.0, 0.8, 0.6, 0.45,
                -0.4, -0.7, -1.0, -1.3, -1.6, -1.9, -2.1, -2.3, -2.5, -2.65, -2.8]
stg_pea_sn_x = [0.8, 0.95, 1.1, 1.15, 0.95, 0.55, 0.25, 0.35, 0.75, 1.0, 1.03, 0.8, 0.45, 0.15, 0.02,
                0.0, 0.1, 0.2, 0.15, 0.1, 0.2, 0.3, 0.25, 0.35, 0.3, 0.15]
stg_pea_i_e = [-0.3, -0.6, -0.9, -1.2, -1.5, -1.8, -2.0, -2.15, -2.31, -2.45, -2.6, -2.76]
stg_pea_i_x = [[0.0, 0.15, 0.3, 0.55, 1.0, 1.6, 2.6, 3.8, 4.8, 3.9, 2.8, 1.8],
               [0.0, 0.15, 0.3, 0.5, 0.9, 1.5, 2.5, 3.6, 4.65, 3.6, 2.6, 1.85],
               [0.0, 0.1, 0.25, 0.4, 0.7, 1.1, 1.3, 1.5, 1.7, 1.9, 2.0, 1.8]]
stg_pea_ic_e = [2.5, 2.3, 2.1, 1.9, 1.7, 1.5, 1.3, 1.1, 0.9, 0.7, 0.5]
stg_pea_ic_x = [[0.3, 0.45, 0.3, 0.2, 0.35, 0.45, 0.3, 0.2, 0.1, 0.05, 0.0],
                [0.2, 0.35, 0.4, 0.25, 0.3, 0.4, 0.4, 0.25, 0.15, 0.05, 0.0],
                [0.35, 0.3, 0.25, 0.3, 0.45, 0.35, 0.25, 0.3, 0.1, 0.03, 0.0]]
stg_pea_c_e = [2.5, 2.35, 2.2, 2.0, 1.8, 1.5, 1.2, 0.9, 0.6, 0.3, 0.0, -0.3, -0.6, -0.9, -1.2, -1.5,
               -1.8, -2.0, -2.2, -2.4, -2.6, -2.8]
stg_pea_c_x = [[0.55, 0.45, 0.3, 0.25, 0.15, 0.1, 0.05, 0.03, 0.02, 0.02, 0.02, 0.02, 0.05, 0.1, 0.2, 0.3,
                0.5, 0.6, 0.75, 0.55, 0.35, 0.3],
               [0.45, 0.5, 0.35, 0.2, 0.1, 0.08, 0.04, 0.02, 0.02, 0.02, 0.02, 0.03, 0.08, 0.15, 0.3, 0.25,
                0.45, 0.65, 0.7, 0.45, 0.4, 0.2],
               [0.6, 0.4, 0.25, 0.3, 0.2, 0.12, 0.06, 0.04, 0.03, 0.02, 0.02, 0.04, 0.1, 0.2, 0.25, 0.35,
                0.4, 0.55, 0.8, 0.6, 0.3, 0.25]]

floor_x = [0.02, 0.05, 0.08]

COL = {'Sn': '#000000', 'I': '#a25cff', 'C': '#22e846', 'N': '#1212e6'}
W, H = 954, 832


def add_box(fig, l, t, r, b):
    return fig.add_axes([l / W, 1 - b / H, (r - l) / W, (b - t) / H])


def style_frame(ax):
    for s in ax.spines.values():
        s.set_color('#7a7a7a')
        s.set_linewidth(0.9)


def draw_bands(ax, ylim, cb, vb, gray, name, name_xy):
    k = np.arange(len(kpath))
    for band in gray:
        ax.plot(k, band, color='#666666', lw=0.9)
    ax.plot(k, cb, color='#111111', lw=1.9)
    ax.plot(k, vb, color='#111111', lw=1.9)
    ax.set_xlim(0, k[-1])
    ax.set_ylim(*ylim)
    ax.set_xticks(k)
    ax.set_xticklabels(kpath)
    ax.set_yticks(list(range(int(np.ceil(ylim[0])), 4)))
    ax.tick_params(direction='in', top=True, right=True, length=4, width=0.8,
                   color='#777777', labelsize=10, labelcolor='#333333')
    ax.tick_params(axis='x', pad=5, labelsize=8.8)
    style_frame(ax)
    ax.text(name_xy[0], name_xy[1], name, fontsize=11, fontweight='bold',
            ha='center', va='center')


def draw_dos(ax, ylim, xmax, sn, ilines, icond, clines, nlines, leg_xy):
    for x, c in zip(floor_x, ['#d98c00', '#111111', '#10c82a']):
        ax.axvline(x, color=c, lw=0.9)
    for e, xs in icond:
        ax.plot(xs, e, color='#c9aaff', lw=0.8)
    for e, xs in ilines:
        ax.plot(xs, e, color='#b38aff', lw=0.9)
    for e, xs in clines:
        ax.plot(xs, e, color='#1ee63c', lw=1.1)
    for e, xs in nlines:
        ax.plot(xs, e, color='#1414e0', lw=1.3)
    ax.plot(sn[1], sn[0], color='#000000', lw=0.9)
    ax.set_xlim(0, xmax)
    ax.set_ylim(*ylim)
    ax.set_xticks(list(range(0, int(xmax) + 1)))
    ax.set_yticks(list(range(int(np.ceil(ylim[0])), 4)))
    ax.tick_params(direction='in', top=True, right=True, length=3, width=0.8,
                   color='#888888', labelbottom=False, labelleft=False)
    style_frame(ax)
    for j, sp in enumerate(species):
        ax.text(leg_xy[0], leg_xy[1] - j * 0.088, sp, transform=ax.transAxes,
                ha='center', va='center', fontsize=12, fontweight='bold',
                family='Liberation Serif', color=COL[sp])


def pairs(e, xs_list):
    return [(e, xs) for xs in xs_list]


fig = plt.figure(figsize=(9.54, 8.32), dpi=100)
fig.text(237 / W, 1 - 22 / H, r'$\mathrm{Eclipsed}$', fontsize=16, ha='center', va='center')
fig.text(712 / W, 1 - 22 / H, r'$\mathrm{Staggered}$', fontsize=16, ha='center', va='center')

# Eclipsed FA
ax = add_box(fig, 32, 84, 313, 277)
draw_bands(ax, (-3, 3), ecl_fa_cb, ecl_fa_vb, ecl_fa_gray, 'FA', (28.8, -0.23))
ax = add_box(fig, 318, 84, 462, 277)
draw_dos(ax, (-3, 3), 5.0, (ecl_fa_sn_e, ecl_fa_sn_x),
         pairs(ecl_fa_i_e, ecl_fa_i_x), pairs(ecl_fa_ic_e, ecl_fa_ic_x),
         pairs(ecl_fa_c_e, ecl_fa_c_x), pairs(ecl_fa_n_e, ecl_fa_n_x), (0.79, 0.915))

# Staggered FA
ax = add_box(fig, 521, 81, 806, 277)
draw_bands(ax, (-2.5, 3), stg_fa_cb, stg_fa_vb, stg_fa_gray, 'FA', (2.1, -0.4))
ax = add_box(fig, 815, 81, 955, 277)
draw_dos(ax, (-2.5, 3), 4.9, (stg_fa_sn_e, stg_fa_sn_x),
         pairs(stg_fa_i_e, stg_fa_i_x), pairs(stg_fa_ic_e, stg_fa_ic_x),
         pairs(stg_fa_c_e, stg_fa_c_x), pairs(stg_fa_n_e, stg_fa_n_x), (0.81, 0.893))

# Eclipsed MI
ax = add_box(fig, 33, 347, 316, 541)
draw_bands(ax, (-2.5, 3), ecl_mi_cb, ecl_mi_vb, ecl_mi_gray, 'MI', (28.7, -0.37))
ax = add_box(fig, 321, 347, 462, 541)
draw_dos(ax, (-2.5, 3), 5.0, (ecl_mi_sn_e, ecl_mi_sn_x),
         pairs(ecl_mi_i_e, ecl_mi_i_x), pairs(ecl_mi_ic_e, ecl_mi_ic_x),
         pairs(ecl_mi_c_e, ecl_mi_c_x), pairs(ecl_mi_n_e, ecl_mi_n_x), (0.81, 0.897))

# Staggered MI
ax = add_box(fig, 508, 348, 787, 540)
draw_bands(ax, (-2.5, 3), stg_mi_cb, stg_mi_vb, stg_mi_gray, 'MI', (2.7, -0.35))
ax = add_box(fig, 800, 347, 955, 540)
draw_dos(ax, (-2.5, 3), 4.8, (stg_mi_sn_e, stg_mi_sn_x),
         pairs(stg_mi_i_e, stg_mi_i_x), pairs(stg_mi_ic_e, stg_mi_ic_x),
         pairs(stg_mi_c_e, stg_mi_c_x), pairs(stg_mi_n_e, stg_mi_n_x), (0.81, 0.87))

# Eclipsed PEA
ax = add_box(fig, 36, 616, 312, 812)
draw_bands(ax, (-3, 3), ecl_pea_cb, ecl_pea_vb, ecl_pea_gray, 'PEA', (27.2, -0.24))
ax = add_box(fig, 319, 614, 449, 812)
draw_dos(ax, (-3, 3), 5.0, (ecl_pea_sn_e, ecl_pea_sn_x),
         pairs(ecl_pea_i_e, ecl_pea_i_x), pairs(ecl_pea_ic_e, ecl_pea_ic_x),
         pairs(ecl_pea_c_e, ecl_pea_c_x) + pairs(ecl_pea_cv_e, ecl_pea_cv_x), [], (0.78, 0.884))

# Staggered PEA
ax = add_box(fig, 519, 614, 790, 804)
draw_bands(ax, (-3, 3), stg_pea_cb, stg_pea_vb, stg_pea_gray, 'PEA', (3.3, -0.35))
ax = add_box(fig, 797, 613, 950, 804)
draw_dos(ax, (-3, 3), 4.94, (stg_pea_sn_e, stg_pea_sn_x),
         pairs(stg_pea_i_e, stg_pea_i_x), pairs(stg_pea_ic_e, stg_pea_ic_x),
         pairs(stg_pea_c_e, stg_pea_c_x), [], (0.76, 0.88))

fig.savefig('out.png', dpi=100)
